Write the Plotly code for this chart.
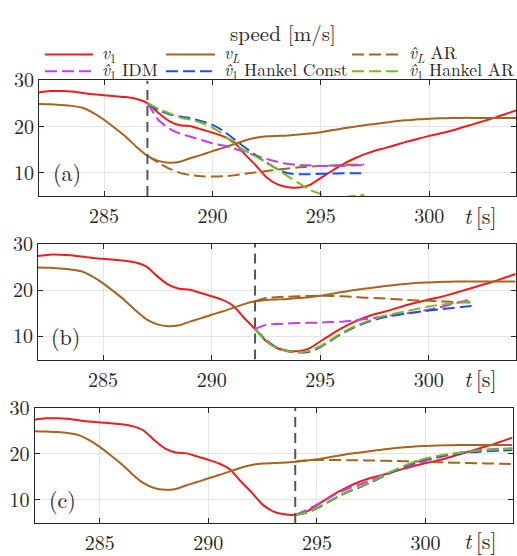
import plotly.graph_objects as go

# ---------------- data ----------------
t = [282.0, 282.5, 283.0, 283.5, 284.0, 284.5, 285.0, 285.5, 286.0, 286.5, 287.0,
     287.5, 288.0, 288.5, 289.0, 289.5, 290.0, 290.5, 291.0, 291.5, 292.0, 292.5,
     293.0, 293.5, 294.0, 294.5, 295.0, 295.5, 296.0, 296.5, 297.0, 297.5, 298.0,
     298.5, 299.0, 299.5, 300.0, 300.5, 301.0, 301.5, 302.0, 302.5, 303.0, 303.5, 304.0]
v1 = [27.4, 27.7, 27.7, 27.6, 27.3, 27.0, 26.8, 26.6, 26.4, 26.0, 25.1,
      23.0, 21.2, 20.3, 20.1, 19.4, 18.7, 17.9, 16.6, 14.0, 11.6, 9.0,
      7.5, 6.9, 6.8, 7.4, 8.9, 10.4, 11.8, 13.0, 14.0, 14.8, 15.4,
      16.1, 16.8, 17.4, 18.0, 18.5, 19.1, 19.8, 20.5, 21.2, 21.9, 22.7, 23.5]
vL = [24.9, 24.85, 24.7, 24.5, 24.1, 23.0, 21.5, 19.7, 17.8, 15.6, 13.7,
      12.6, 12.2, 12.4, 13.2, 13.9, 14.7, 15.4, 16.2, 17.0, 17.6, 17.9,
      18.0, 18.1, 18.3, 18.5, 18.8, 19.2, 19.6, 20.0, 20.3, 20.6, 20.9,
      21.2, 21.4, 21.6, 21.7, 21.8, 21.85, 21.9, 21.9, 21.9, 21.9, 21.9, 21.9]

pred_start = [287.0, 292.0, 294.0]
panel_labels = ["(a)", "(b)", "(c)"]

t_a = [287.0, 287.5, 288.0, 288.5, 289.0, 289.5, 290.0, 290.5, 291.0, 291.5, 292.0,
       292.5, 293.0, 293.5, 294.0, 294.5, 295.0, 295.5, 296.0, 296.5, 297.0]
vLAR_a = [13.7, 12.2, 10.9, 10.0, 9.5, 9.25, 9.2, 9.25, 9.45, 9.8, 10.1,
          10.4, 10.7, 10.95, 11.2, 11.35, 11.5, 11.6, 11.7, 11.75, 11.8]
idm_a = [25.1, 21.5, 19.6, 18.5, 17.8, 17.1, 16.4, 15.9, 15.2, 14.5, 13.7,
         13.0, 12.4, 11.9, 11.7, 11.6, 11.5, 11.5, 11.5, 11.6, 11.7]
const_a = [25.1, 23.6, 22.7, 22.2, 21.8, 21.2, 20.4, 19.1, 17.3, 15.5, 13.8,
           12.2, 10.8, 9.9, 9.7, 9.7, 9.8, 9.85, 9.9, 9.9, 9.9]
har_a = [25.1, 23.9, 22.9, 22.0, 21.5, 20.8, 19.8, 18.3, 16.3, 14.8, 13.5,
         12.2, 10.7, 9.2, 7.7, 6.3, 5.4, 4.6, 4.7, 5.0, 5.2]

t_b = [292.0, 292.5, 293.0, 293.5, 294.0, 294.5, 295.0, 295.5, 296.0, 296.5, 297.0,
       297.5, 298.0, 298.5, 299.0, 299.5, 300.0, 300.5, 301.0, 301.5, 302.0]
vLAR_b = [17.6, 18.3, 18.5, 18.6, 18.7, 18.75, 18.8, 18.75, 18.7, 18.6, 18.4,
          18.3, 18.2, 18.05, 17.9, 17.8, 17.7, 17.6, 17.5, 17.4, 17.3]
idm_b = [11.6, 12.5, 12.7, 12.8, 12.9, 12.95, 13.0, 13.1, 13.2, 13.4, 13.7,
         14.0, 14.4, 14.7, 15.0, 15.3, 15.8, 16.3, 16.9, 17.5, 18.2]
const_b = [11.6, 9.3, 7.6, 6.8, 6.5, 6.7, 7.7, 9.1, 10.6, 11.8, 12.8,
           13.6, 14.2, 14.6, 15.0, 15.3, 15.6, 15.85, 16.1, 16.35, 16.6]
har_b = [11.6, 9.1, 7.5, 6.8, 6.6, 6.9, 7.9, 9.3, 10.8, 12.0, 13.0,
         13.8, 14.5, 15.0, 15.5, 16.0, 16.5, 16.8, 17.1, 17.35, 17.6]

t_c = [294.0, 294.5, 295.0, 295.5, 296.0, 296.5, 297.0, 297.5, 298.0, 298.5, 299.0,
       299.5, 300.0, 300.5, 301.0, 301.5, 302.0, 302.5, 303.0, 303.5, 304.0]
vLAR_c = [18.3, 18.6, 18.65, 18.65, 18.65, 18.6, 18.6, 18.55, 18.5, 18.45, 18.4,
          18.35, 18.3, 18.2, 18.1, 18.05, 18.0, 17.95, 17.9, 17.85, 17.8]
idm_c = [6.8, 7.8, 9.0, 10.3, 11.6, 12.6, 13.4, 14.3, 15.3, 16.3, 17.1,
         17.8, 18.5, 19.1, 19.7, 20.2, 20.5, 20.8, 21.0, 21.1, 21.2]
const_c = [6.8, 7.2, 8.2, 9.5, 10.8, 11.9, 12.8, 13.8, 15.0, 16.1, 17.2,
           18.1, 18.8, 19.3, 19.7, 20.0, 20.3, 20.45, 20.6, 20.7, 20.8]
har_c = [6.8, 7.3, 8.3, 9.6, 10.9, 12.0, 12.9, 13.9, 15.2, 16.3, 17.4,
         18.3, 19.0, 19.5, 19.9, 20.2, 20.5, 20.7, 20.9, 21.0, 21.1]

x_ticks = [285, 290, 295, 300]
y_ticks = [10, 20, 30]
x_range = [282, 304]
y_range = [5, 30]

keys = ["v1", "vL", "vLAR", "idm", "const", "har"]
names = {
    "v1": "<i>v</i><sub>1</sub>",
    "vL": "<i>v</i><sub><i>L</i></sub>",
    "vLAR": "<i>v̂</i><sub><i>L</i></sub> AR",
    "idm": "<i>v̂</i><sub>1</sub> IDM",
    "const": "<i>v̂</i><sub>1</sub> Hankel Const",
    "har": "<i>v̂</i><sub>1</sub> Hankel AR",
}
colors = {"v1": "#ee1c1c", "vL": "#a6641f", "vLAR": "#a6641f",
          "idm": "#bf40f2", "const": "#1f4fe0", "har": "#7abb1c"}

FONT = "Latin Modern Roman"
INK = "#262626"
DASH = "12px,5px"

preds = [
    (t_a, {"vLAR": vLAR_a, "idm": idm_a, "const": const_a, "har": har_a}),
    (t_b, {"vLAR": vLAR_b, "idm": idm_b, "const": const_b, "har": har_b}),
    (t_c, {"vLAR": vLAR_c, "idm": idm_c, "const": const_c, "har": har_c}),
]

W, H = 517, 556
# panel pixel boxes (left, right, top, bottom)
boxes = [(39, 516, 67, 187), (38, 515.5, 237, 357), (34.5, 512.5, 407, 527)]

fig = go.Figure()

for i, (tp, series) in enumerate(preds):
    sfx = "" if i == 0 else str(i + 1)
    xa, ya = "x" + sfx, "y" + sfx
    for key, yv in (("v1", v1), ("vL", vL)):
        fig.add_trace(go.Scatter(
            x=t, y=yv, mode="lines", name=names[key], xaxis=xa, yaxis=ya,
            line=dict(color=colors[key], width=2, shape="spline", smoothing=0.6),
            showlegend=False))
    for key in ("vLAR", "idm", "const", "har"):
        fig.add_trace(go.Scatter(
            x=tp, y=series[key], mode="lines", name=names[key], xaxis=xa, yaxis=ya,
            line=dict(color=colors[key], width=2, dash=DASH, shape="spline", smoothing=0.6),
            showlegend=False))
    fig.add_trace(go.Scatter(
        x=[pred_start[i], pred_start[i]], y=y_range, mode="lines", xaxis=xa, yaxis=ya,
        line=dict(color="#555555", width=2, dash="10px,6px"), showlegend=False,
        hoverinfo="skip"))

axis_style = dict(
    showline=True, linecolor=INK, linewidth=1, mirror="ticks",
    ticks="inside", ticklen=5, tickcolor=INK, showgrid=True,
    gridcolor="#e4e4e4", gridwidth=1, zeroline=False,
    tickfont=dict(family=FONT, size=20, color=INK))

layout = dict(width=W, height=H, margin=dict(l=0, r=0, t=0, b=0),
              paper_bgcolor="white", plot_bgcolor="white", showlegend=False,
              font=dict(family=FONT, size=20, color=INK))
annotations = []
shapes = []
for i, (l, r, tp_, bt) in enumerate(boxes):
    sfx = "" if i == 0 else str(i + 1)
    layout["xaxis" + sfx] = dict(axis_style, domain=[l / W, r / W], range=x_range,
                                 tickvals=x_ticks, anchor="y" + sfx, ticklabelstandoff=2)
    layout["yaxis" + sfx] = dict(axis_style, domain=[1 - bt / H, 1 - tp_ / H], range=y_range,
                                 tickvals=y_ticks, anchor="x" + sfx)
    annotations.append(dict(text=panel_labels[i], xref="x" + sfx + " domain",
                            yref="y" + sfx + " domain", x=0.058, y=0.21,
                            xanchor="center", yanchor="middle", showarrow=False,
                            font=dict(family=FONT, size=22, color=INK)))
    ty = min(bt + 19, 544)
    annotations.append(dict(text="<i>t</i>\u2009[s]", xref="paper", yref="paper",
                            x=480 / W, y=1 - ty / H, xanchor="center",
                            yanchor="middle", showarrow=False,
                            font=dict(family=FONT, size=22, color=INK)))

annotations.append(dict(text="speed [m/s]", xref="paper", yref="paper",
                        x=283 / W, y=1 - 17 / H, xanchor="center", yanchor="middle",
                        showarrow=False, font=dict(family=FONT, size=21, color=INK)))

# legend (3 columns x 2 rows), drawn as line samples + labels
leg_cols = [(45, 93, 100), (166, 215, 222), (352, 399, 407)]
leg_rows = [40, 57.5]
leg_text_rows = [38.5, 56]
for k, key in enumerate(keys):
    row = 0 if k < 3 else 1
    col = k % 3
    x0, x1, xt = leg_cols[col]
    yy = leg_rows[row]
    dash = "solid" if key in ("v1", "vL") else DASH
    shapes.append(dict(type="line", xref="paper", yref="paper",
                       x0=x0 / W, x1=x1 / W, y0=1 - yy / H, y1=1 - yy / H,
                       line=dict(color=colors[key], width=2, dash=dash)))
    annotations.append(dict(text=names[key], xref="paper", yref="paper",
                            x=xt / W, y=1 - leg_text_rows[row] / H, xanchor="left",
                            yanchor="middle", showarrow=False,
                            font=dict(family=FONT, size=17.5, color=INK)))

layout["annotations"] = annotations
layout["shapes"] = shapes

fig.update_layout(**layout)
fig.write_html("out.html")
